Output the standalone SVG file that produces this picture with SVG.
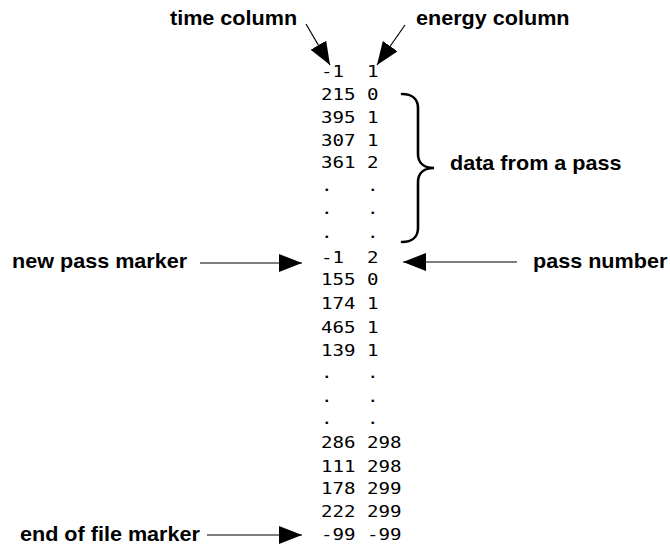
<svg xmlns="http://www.w3.org/2000/svg" width="670" height="548" viewBox="0 0 670 548">
  <style>
    .label { font-family: "Liberation Sans", Arial, sans-serif; font-weight: bold; font-size: 20px; fill: #000; }
    .data { font-family: "DejaVu Sans Mono", "Liberation Mono", monospace; font-size: 16.5px; fill: #000; white-space: pre; }
    .conn { stroke: #000; stroke-width: 1.2; fill: none; marker-end: url(#head); }
    .brace { stroke: #000; stroke-width: 2.6; fill: none; stroke-linecap: round; }
  </style>
  <defs>
    <marker id="head" viewBox="0 0 23 18" refX="23" refY="9" markerWidth="23" markerHeight="18" orient="auto" markerUnits="userSpaceOnUse">
      <path d="M0,0 L23,9 L0,18 z" fill="#000"/>
    </marker>
  </defs>

  <rect width="670" height="548" fill="#fff"/>

  <!-- labels (Arial-style bold, slightly widened) -->
  <g id="time-column"><text class="label" transform="translate(170,25) scale(1.08,1)">time column</text></g>
  <g id="energy-column"><text class="label" transform="translate(416,25) scale(1.08,1)">energy column</text></g>
  <g id="data-from-a-pass"><text class="label" transform="translate(450,170) scale(1.08,1)">data from a pass</text></g>
  <g id="new-pass-marker"><text class="label" transform="translate(12,268) scale(1.08,1)">new pass marker</text></g>
  <g id="pass-number"><text class="label" transform="translate(533,268) scale(1.08,1)">pass number</text></g>
  <g id="end-of-file-marker"><text class="label" transform="translate(20,541) scale(1.08,1)">end of file marker</text></g>

  <!-- the two-column data listing -->
  <g id="listing" transform="translate(321,0) scale(1.16,1)" xml:space="preserve">
    <text class="data" x="0" y="77">-1  1</text>
    <text class="data" x="0" y="100">215 0</text>
    <text class="data" x="0" y="123">395 1</text>
    <text class="data" x="0" y="146">307 1</text>
    <text class="data" x="0" y="168">361 2</text>
    <text class="data" x="0" y="191">.   .</text>
    <text class="data" x="0" y="214">.   .</text>
    <text class="data" x="0" y="238">.   .</text>
    <text class="data" x="0" y="263">-1  2</text>
    <text class="data" x="0" y="285">155 0</text>
    <text class="data" x="0" y="309">174 1</text>
    <text class="data" x="0" y="333">465 1</text>
    <text class="data" x="0" y="356">139 1</text>
    <text class="data" x="0" y="378">.   .</text>
    <text class="data" x="0" y="402">.   .</text>
    <text class="data" x="0" y="424">.   .</text>
    <text class="data" x="0" y="448">286 298</text>
    <text class="data" x="0" y="472">111 298</text>
    <text class="data" x="0" y="494">178 299</text>
    <text class="data" x="0" y="517">222 299</text>
    <text class="data" x="0" y="540">-99 -99</text>
  </g>

  <!-- curly brace grouping one pass -->
  <g id="pass-brace">
    <path class="brace" d="M402,94 C412,94 418,99 418,108 V154 C418,163 424,168 434,168 C424,168 418,173 418,182 V228 C418,237 412,242 402,242"/>
  </g>

  <!-- connectors -->
  <g id="connectors">
    <line class="conn" x1="306" y1="24" x2="330" y2="65"/>
    <line class="conn" x1="405" y1="25" x2="377" y2="65"/>
    <line class="conn" x1="200" y1="263" x2="302" y2="263"/>
    <line class="conn" x1="517" y1="262" x2="403" y2="262"/>
    <line class="conn" x1="207" y1="535" x2="302" y2="535"/>
  </g>
</svg>
